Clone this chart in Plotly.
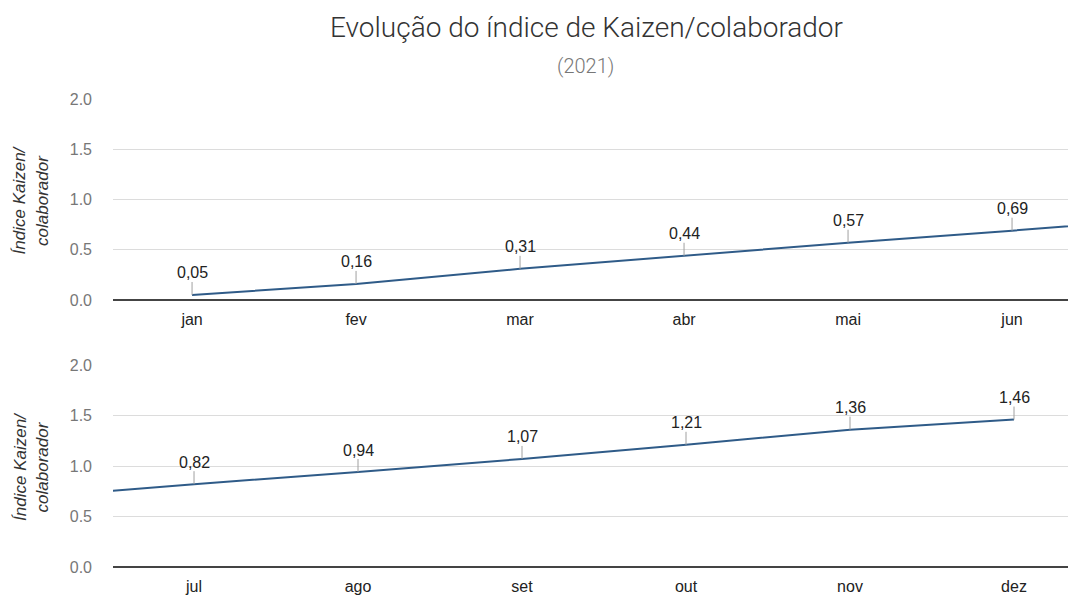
import plotly.graph_objects as go

months = ["jan", "fev", "mar", "abr", "mai", "jun", "jul", "ago", "set", "out", "nov", "dez"]
values = [0.05, 0.16, 0.31, 0.44, 0.57, 0.69, 0.82, 0.94, 1.07, 1.21, 1.36, 1.46]
labels = ["0,05", "0,16", "0,31", "0,44", "0,57", "0,69", "0,82", "0,94", "1,07", "1,21", "1,36", "1,46"]
y_ticks = [0.0, 0.5, 1.0, 1.5, 2.0]
y_tick_text = ["0.0", "0.5", "1.0", "1.5", "2.0"]

idx = list(range(len(months)))
LINE = "#2f5b88"
SANS = "Liberation Sans, Arial"

fig = go.Figure()
for xa, ya in (("x", "y"), ("x2", "y2")):
    fig.add_trace(go.Scatter(x=idx, y=values, mode="lines", xaxis=xa, yaxis=ya,
                             line=dict(color=LINE, width=2), hoverinfo="skip", showlegend=False))

annotations = []
for i, (v, t) in enumerate(zip(values, labels)):
    xr, yr = ("x", "y") if i < 6 else ("x2", "y2")
    annotations.append(dict(x=i, y=v, xref=xr, yref=yr, text=t, showarrow=True,
                            arrowhead=0, arrowwidth=1, arrowcolor="#a0a0a0", ax=0, ay=-22,
                            standoff=0, borderpad=0,
                            font=dict(family=SANS, size=16, color="#222")))

# titles
annotations.append(dict(text="Evolução do índice de Kaizen/colaborador", xref="paper", yref="paper",
                        x=0.5, y=1, xshift=-8, yshift=72, showarrow=False, xanchor="center", yanchor="middle",
                        font=dict(family="Roboto", size=28, color="#333", weight=300)))
annotations.append(dict(text="(2021)", xref="paper", yref="paper",
                        x=0.5, y=1, xshift=-9, yshift=33, showarrow=False, xanchor="center", yanchor="middle",
                        font=dict(family="Roboto", size=20, color="#777", weight=300)))
for ydom in ((0.5705 + 1.0) / 2, 0.4316 / 2):
    annotations.append(dict(text="Índice Kaizen/<br>colaborador", xref="paper", yref="paper",
                            x=-0.0852, y=ydom, showarrow=False, textangle=-90,
                            xanchor="center", yanchor="middle",
                            font=dict(family=SANS, size=17, color="#333", style="italic")))

yax = dict(range=[0, 2], tickvals=y_ticks, ticktext=y_tick_text, showgrid=True,
           gridcolor="#dcdcdc", gridwidth=1, zeroline=True, zerolinecolor="#444", zerolinewidth=1.5,
           tickfont=dict(family=SANS, size=16, color="#777"),
           ticklabelstandoff=20, fixedrange=True)
xax = dict(showgrid=False, zeroline=False, showline=False,
           tickfont=dict(family=SANS, size=16, color="#222"), ticks="", ticklabelstandoff=8)

fig.update_layout(
    width=1068, height=587,
    margin=dict(l=105, r=0, t=91, b=28),
    paper_bgcolor="white", plot_bgcolor="white",
    xaxis=dict(xax, domain=[0, 1], anchor="y", range=[-0.482, 5.39],
               tickvals=idx[:6], ticktext=months[:6]),
    yaxis=dict(yax, domain=[0.5705, 1.0], anchor="x"),
    xaxis2=dict(xax, domain=[0, 1], anchor="y2", range=[5.506, 11.378],
                tickvals=idx[6:], ticktext=months[6:]),
    yaxis2=dict(yax, domain=[0.0, 0.4316], anchor="x2"),
    annotations=annotations,
)

fig.write_html("out.html")
